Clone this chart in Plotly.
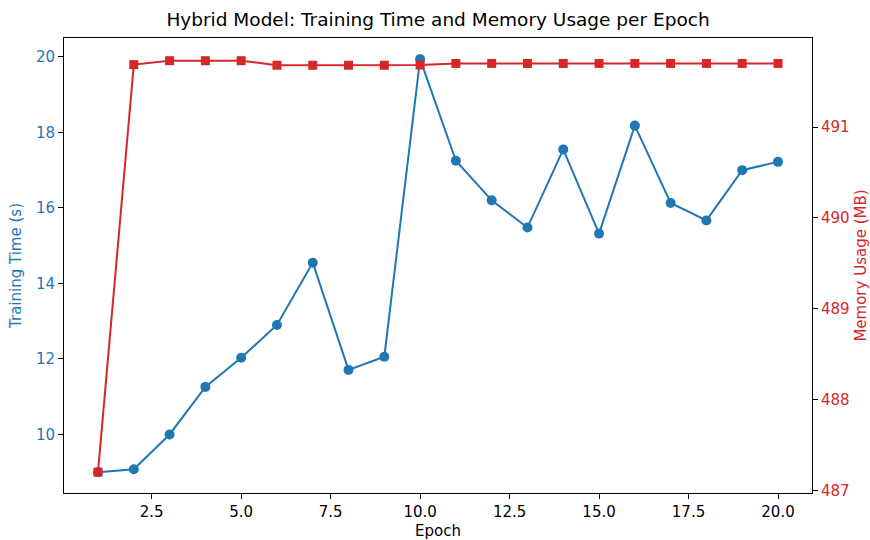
import plotly.graph_objects as go

epochs = list(range(1, 21))
train_time = [9.0, 9.08, 10.0, 11.26, 12.03, 12.9, 14.55, 11.71, 12.06, 19.94,
              17.25, 16.2, 15.48, 17.55, 15.32, 18.18, 16.13, 15.67, 17.0, 17.22]
memory_mb = [487.2, 491.687, 491.73, 491.73, 491.73, 491.68, 491.68, 491.68, 491.68, 491.683,
             491.70, 491.70, 491.70, 491.70, 491.70, 491.70, 491.70, 491.70, 491.70, 491.70]
x_ticks = [2.5, 5.0, 7.5, 10.0, 12.5, 15.0, 17.5, 20.0]
y1_ticks = [10, 12, 14, 16, 18, 20]
y2_ticks = [487, 488, 489, 490, 491]

BLUE = "#1f77b4"
RED = "#d62728"
FONT = "DejaVu Sans"
FS = 15

fig = go.Figure()
fig.add_trace(go.Scatter(x=epochs, y=train_time, mode="lines+markers",
                         line=dict(color=BLUE, width=2),
                         marker=dict(symbol="circle", size=10, color=BLUE),
                         name="Training Time", yaxis="y"))
fig.add_trace(go.Scatter(x=epochs, y=memory_mb, mode="lines+markers",
                         line=dict(color=RED, width=2),
                         marker=dict(symbol="square", size=9, color=RED),
                         name="Memory Usage", yaxis="y2"))

fig.update_layout(
    width=870, height=540,
    margin=dict(l=64, r=58, t=38, b=47, autoexpand=False),
    paper_bgcolor="white", plot_bgcolor="white",
    showlegend=False,
    font=dict(family=FONT, size=FS, color="black"),
    title=dict(text="Hybrid Model: Training Time and Memory Usage per Epoch",
               x=(64 + 812) / 2 / 870, xanchor="center", y=1 - 20 / 540, yanchor="middle",
               font=dict(family=FONT, size=18.5, color="black")),
    xaxis=dict(range=[0.05, 20.95], tickvals=x_ticks, automargin=False,
               ticktext=[f"{v:.1f}" for v in x_ticks],
               showgrid=False, zeroline=False, showline=True, linecolor="black",
               linewidth=1, mirror=True, ticks="outside", ticklen=5, tickcolor="black",
               tickfont=dict(size=FS, color="black"),
               title=dict(text="Epoch", font=dict(size=FS, color="black"), standoff=5)),
    yaxis=dict(range=[8.45, 20.5], tickvals=y1_ticks, automargin=False,
               showgrid=False, zeroline=False, showline=True, linecolor="black",
               linewidth=1, mirror=True, ticks="outside", ticklen=5, tickcolor="black",
               tickfont=dict(size=FS, color=BLUE),
               title=dict(text="Training Time (s)", font=dict(size=FS, color=BLUE), standoff=10)),
    yaxis2=dict(range=[486.97, 491.98], tickvals=y2_ticks, overlaying="y", side="right",
                automargin=False,
                showgrid=False, zeroline=False, showline=True, linecolor="black",
                linewidth=1, ticks="outside", ticklen=5, tickcolor="black",
                tickfont=dict(size=FS, color=RED),
                title=dict(text="Memory Usage (MB)", font=dict(size=FS, color=RED), standoff=8)),
)

fig.write_html("out.html")
